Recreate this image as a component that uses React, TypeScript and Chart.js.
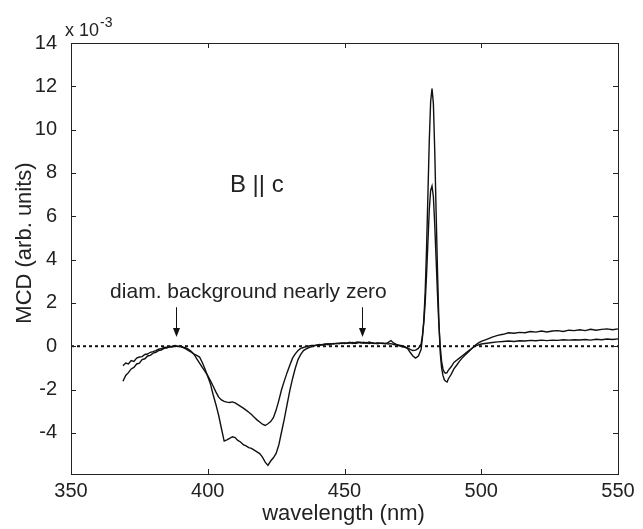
import React, { useEffect, useRef } from "react";
import { Chart, registerables } from "chart.js";

Chart.register(...registerables);

// wavelength (nm)
const wavelength = [
  369, 370, 371, 372, 373, 374, 375, 376, 377, 378,
  379, 380, 381, 382, 383, 384, 385, 386, 387, 388,
  389, 390, 391, 392, 393, 394, 395, 396, 397, 398,
  399, 400, 401, 402, 403, 404, 405, 406, 407, 408,
  409, 410, 411, 412, 413, 414, 415, 416, 417, 418,
  419, 420, 421, 422, 423, 424, 425, 426, 427, 428,
  429, 430, 431, 432, 433, 434, 435, 436, 437, 438,
  439, 440, 441, 442, 443, 444, 445, 446, 447, 448,
  449, 450, 451, 452, 453, 454, 455, 456, 457, 458,
  459, 460, 461, 462, 463, 464, 465, 466, 467, 468,
  469, 470, 471, 472, 473, 474, 475, 476, 477, 478,
  478.5, 479, 479.5, 480, 480.5, 481, 481.5, 482, 482.5, 483,
  483.5, 484, 484.5, 485, 485.5, 486, 486.5, 487, 487.5, 488,
  489, 490, 491, 492, 493, 494, 495, 496, 497, 498,
  499, 500, 502, 504, 506, 508, 510, 512, 514, 516,
  518, 520, 522, 524, 526, 528, 530, 532, 534, 536,
  538, 540, 542, 544, 546, 548, 550,
];

// MCD (x 10^-3), curve with the deeper band
const mcdA = [
  -1.62, -1.35, -1.22, -1.05, -0.98, -0.82, -0.78, -0.62, -0.58, -0.45,
  -0.42, -0.32, -0.28, -0.2, -0.18, -0.1, -0.09, -0.03, -0.04, 0.02,
  -0.02, -0.02, -0.06, -0.12, -0.2, -0.28, -0.36, -0.42, -0.5, -0.75,
  -1.05, -1.4, -1.75, -2.25, -2.7, -3.2, -3.8, -4.38, -4.32, -4.25,
  -4.18, -4.22, -4.35, -4.42, -4.55, -4.6, -4.68, -4.72, -4.8, -4.88,
  -4.96, -5.12, -5.35, -5.5, -5.3, -5.15, -4.95, -4.55, -3.95, -3.35,
  -2.7, -2.05, -1.5, -1.02, -0.62, -0.38, -0.2, -0.12, -0.06, -0.02,
  0.02, 0.05, 0.04, 0.08, 0.1, 0.07, 0.12, 0.1, 0.14, 0.11,
  0.16, 0.12, 0.15, 0.18, 0.13, 0.17, 0.2, 0.15, 0.18, 0.14,
  0.19, 0.15, 0.12, 0.16, 0.13, 0.15, 0.1, 0.18, 0.26, 0.14,
  0.08, 0.05, 0.02, -0.02, -0.1, -0.28, -0.45, -0.55, -0.45, -0.15,
  0.4, 1.2, 2.5, 4.5, 7.0, 9.5, 11.3, 11.9, 11.2, 9.0,
  6.2, 3.5, 1.2, -0.3, -1.0, -1.35, -1.55, -1.62, -1.65, -1.5,
  -1.3, -1.05, -0.88, -0.7, -0.55, -0.42, -0.3, -0.18, -0.05, 0.06,
  0.15, 0.22, 0.32, 0.42, 0.5, 0.55, 0.62, 0.6, 0.64, 0.62,
  0.68, 0.65, 0.7, 0.66, 0.7, 0.72, 0.68, 0.74, 0.72, 0.76,
  0.72, 0.78, 0.74, 0.78, 0.8, 0.76, 0.8,
];

// MCD (x 10^-3), curve with the shallower band
const mcdB = [
  -0.9, -0.78, -0.82, -0.66, -0.7, -0.55, -0.5, -0.48, -0.38, -0.36,
  -0.28, -0.25, -0.2, -0.14, -0.12, -0.06, -0.05, -0.01, 0.0, 0.03,
  0.0, 0.01, -0.04, -0.08, -0.14, -0.25, -0.38, -0.58, -0.78, -0.98,
  -1.16, -1.36, -1.6, -1.85, -2.12, -2.35, -2.48, -2.55, -2.58, -2.6,
  -2.57, -2.62, -2.7, -2.78, -2.86, -2.95, -3.05, -3.15, -3.28, -3.4,
  -3.5, -3.6, -3.66, -3.58, -3.48, -3.3, -2.95, -2.5, -2.0, -1.6,
  -1.22, -0.88, -0.55, -0.35, -0.2, -0.1, -0.06, -0.02, 0.01, 0.04,
  0.03, 0.06, 0.08, 0.05, 0.09, 0.12, 0.09, 0.13, 0.11, 0.15,
  0.12, 0.16, 0.13, 0.15, 0.17, 0.13, 0.16, 0.18, 0.14, 0.17,
  0.13, 0.16, 0.14, 0.11, 0.15, 0.12, 0.14, 0.1, 0.12, 0.08,
  0.06, 0.02, -0.02, -0.05, -0.08, -0.15, -0.2, -0.18, -0.1, 0.1,
  0.5, 1.1, 2.0, 3.3, 4.8, 6.3, 7.2, 7.4, 6.9, 5.6,
  4.0, 2.4, 1.0, 0.0, -0.7, -1.05, -1.2, -1.25, -1.22, -1.1,
  -0.95, -0.75, -0.65, -0.55, -0.45, -0.35, -0.25, -0.15, -0.06, 0.02,
  0.06, 0.1, 0.14, 0.17, 0.2, 0.22, 0.24, 0.22, 0.25, 0.24,
  0.27, 0.25, 0.28, 0.26, 0.28, 0.27, 0.3, 0.28, 0.3, 0.29,
  0.31, 0.28, 0.32, 0.3, 0.33, 0.31, 0.34,
];

const zeroLineX = [350, 550];
const zeroLineY = [0, 0];

const xTicks = [350, 400, 450, 500, 550];
const yTicks = [-4, -2, 0, 2, 4, 6, 8, 10, 12, 14];
const xRange = [350, 550];
const yRange = [-5.9, 14];

// annotations (data coordinates)
const arrowX = [388.5, 456.3];
const arrowTipY = 0.42;
const arrowTailY = 1.8;
const noteText = "diam. background nearly zero";
const notePos = [364.3, 2.23];
const fieldText = "B || c";
const fieldPos = [408.1, 7.13];
const xTitle = "wavelength (nm)";
const yTitle = "MCD (arb. units)";

const FONT = '"Liberation Sans", Arial, Helvetica, sans-serif';
const INK = "#222";

const decorPlugin = {
  id: "decor",
  afterDraw(chart: any) {
    const { ctx, chartArea: a, scales } = chart;
    const x = scales.x;
    const y = scales.y;
    ctx.save();
    // box
    ctx.strokeStyle = INK;
    ctx.lineWidth = 1;
    ctx.strokeRect(a.left + 0.5, a.top + 0.5, a.right - a.left, a.bottom - a.top);
    // inward ticks on all sides
    ctx.beginPath();
    for (const v of xTicks) {
      const px = Math.round(x.getPixelForValue(v)) + 0.5;
      ctx.moveTo(px, a.bottom);
      ctx.lineTo(px, a.bottom - 5);
      ctx.moveTo(px, a.top);
      ctx.lineTo(px, a.top + 5);
    }
    for (const v of yTicks) {
      const py = Math.round(y.getPixelForValue(v)) + 0.5;
      ctx.moveTo(a.left, py);
      ctx.lineTo(a.left + 5, py);
      ctx.moveTo(a.right, py);
      ctx.lineTo(a.right - 5, py);
    }
    ctx.stroke();

    // arrows
    ctx.fillStyle = "#111";
    ctx.strokeStyle = "#111";
    for (const ax of arrowX) {
      const px = Math.round(x.getPixelForValue(ax)) + 0.5;
      const tip = y.getPixelForValue(arrowTipY);
      const tail = y.getPixelForValue(arrowTailY);
      ctx.beginPath();
      ctx.moveTo(px, tail);
      ctx.lineTo(px, tip - 8);
      ctx.stroke();
      ctx.beginPath();
      ctx.moveTo(px, tip);
      ctx.lineTo(px - 3.5, tip - 9);
      ctx.lineTo(px + 3.5, tip - 9);
      ctx.closePath();
      ctx.fill();
    }

    // annotation texts
    ctx.fillStyle = INK;
    ctx.textAlign = "left";
    ctx.textBaseline = "alphabetic";
    ctx.font = `21px ${FONT}`;
    ctx.fillText(noteText, x.getPixelForValue(notePos[0]), y.getPixelForValue(notePos[1]));
    ctx.font = `24px ${FONT}`;
    ctx.fillText(fieldText, x.getPixelForValue(fieldPos[0]), y.getPixelForValue(fieldPos[1]));

    // exponent multiplier
    ctx.font = `18px ${FONT}`;
    const mx = a.left - 6;
    ctx.fillText("x 10", mx, a.top - 7);
    const w = ctx.measureText("x 10").width;
    ctx.font = `14px ${FONT}`;
    ctx.fillText("-3", mx + w + 1, a.top - 16);

    // axis titles
    ctx.font = `22px ${FONT}`;
    ctx.textAlign = "center";
    ctx.fillText(xTitle, (a.left + a.right) / 2 - 1, 520);
    ctx.translate(25, 243);
    ctx.rotate(-Math.PI / 2);
    ctx.textBaseline = "middle";
    ctx.fillText(yTitle, 0, 0);
    ctx.restore();
  },
};

export default function App() {
  const ref = useRef<HTMLCanvasElement | null>(null);

  useEffect(() => {
    document.body.style.margin = "0";
    const canvas = ref.current;
    if (!canvas) return;
    const toPts = (xs: number[], ys: number[]) => xs.map((v, i) => ({ x: v, y: ys[i] }));
    const chart = new Chart(canvas, {
      type: "scatter",
      data: {
        datasets: [
          {
            data: toPts(zeroLineX, zeroLineY),
            showLine: true,
            borderColor: "#111",
            borderWidth: 2,
            borderDash: [3, 3],
            pointRadius: 0,
          },
          {
            data: toPts(wavelength, mcdA),
            showLine: true,
            borderColor: "#111",
            borderWidth: 1.4,
            pointRadius: 0,
            tension: 0,
          },
          {
            data: toPts(wavelength, mcdB),
            showLine: true,
            borderColor: "#111",
            borderWidth: 1.4,
            pointRadius: 0,
            tension: 0,
          },
        ],
      },
      options: {
        responsive: false,
        devicePixelRatio: 1,
        animation: false,
        layout: { padding: { top: 43, right: 25, left: 0, bottom: 0 } },
        plugins: { legend: { display: false }, tooltip: { enabled: false } },
        scales: {
          x: {
            type: "linear",
            position: "bottom",
            min: xRange[0],
            max: xRange[1],
            grid: { display: false },
            border: { display: false },
            ticks: {
              font: { size: 20, family: FONT },
              color: INK,
              padding: -3,
              maxRotation: 0,
              autoSkip: false,
            },
            afterBuildTicks: (s: any) => {
              s.ticks = xTicks.map((v) => ({ value: v }));
            },
            afterFit: (s: any) => {
              s.height = 55;
            },
          },
          y: {
            type: "linear",
            position: "left",
            min: yRange[0],
            max: yRange[1],
            grid: { display: false },
            border: { display: false },
            ticks: {
              font: { size: 20, family: FONT },
              color: INK,
              padding: 6,
              autoSkip: false,
            },
            afterBuildTicks: (s: any) => {
              s.ticks = yTicks.map((v) => ({ value: v }));
            },
            afterFit: (s: any) => {
              s.width = 71;
            },
          },
        },
      },
      plugins: [decorPlugin],
    });
    return () => chart.destroy();
  }, []);

  return (
    <div style={{ position: "absolute", left: 0, top: 0, width: 643, height: 529, background: "#fff" }}>
      <canvas ref={ref} width={643} height={529} style={{ display: "block" }} />
    </div>
  );
}
